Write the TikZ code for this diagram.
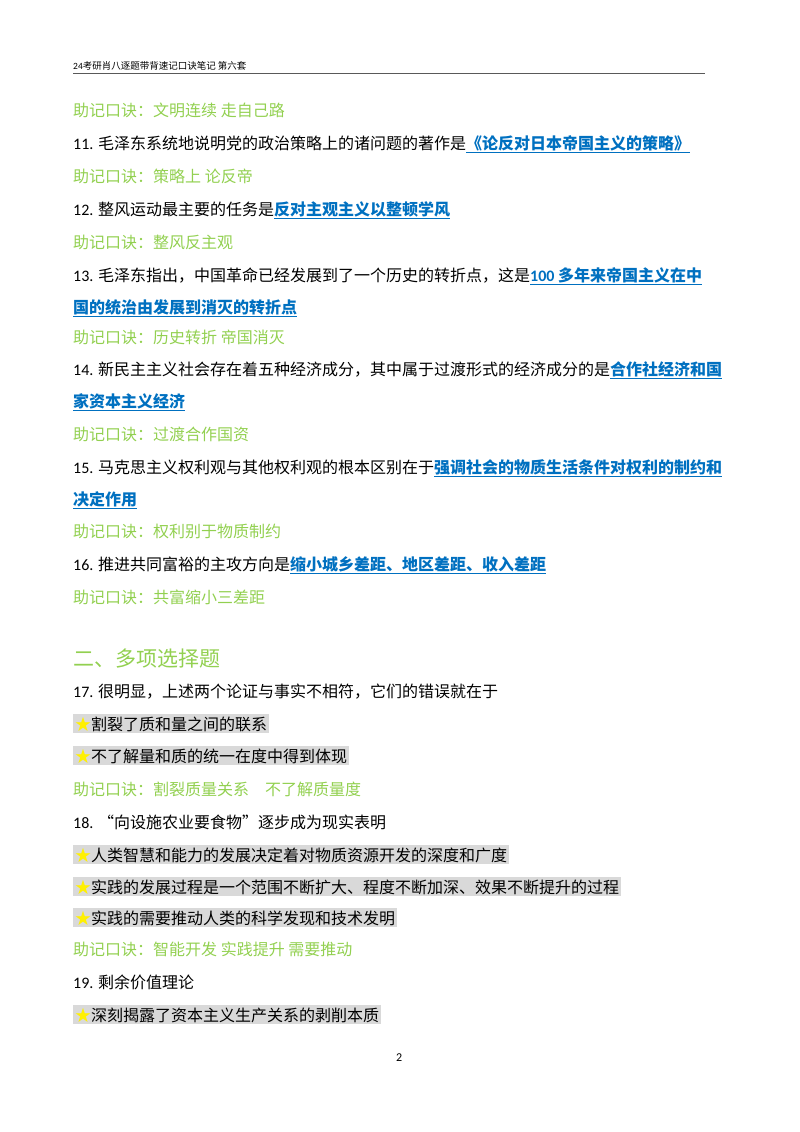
\documentclass[tikz,border=0pt]{standalone}
\usepackage{fontspec}
\setmainfont{Noto Sans CJK SC}
\newfontfamily\latin{Carlito}
\definecolor{mgreen}{RGB}{146,208,80}
\definecolor{lblue}{RGB}{0,112,192}
\definecolor{hgray}{RGB}{217,217,217}
\definecolor{star}{RGB}{255,240,0}
\newcommand{\lk}[1]{\textcolor{lblue}{\bfseries\underline{#1}}}
\newcommand{\st}{\textcolor{star}{★}}
\begin{document}
\begin{tikzpicture}[x=1pt,y=-1pt,
  t/.style={anchor=base west,inner sep=0pt,font=\fontsize{16}{19}\selectfont},
  g/.style={t,text=mgreen},
  h/.style={t,fill=hgray,inner sep=2pt}]
\useasboundingbox (0,0) rectangle (800,1132);
\node[t,font=\fontsize{9.5}{12}\selectfont] (hd) at (73,70) {{\latin 24}考研肖八逐题带背速记口诀笔记\ 第六套};
\draw[gray!70!black,line width=0.8pt] (73,73) -- (705,73);
\node[g] (a1) at (73,116) {助记口诀：文明连续\ 走自己路};
\node[t] (q11) at (73,149) {{\latin 11.} 毛泽东系统地说明党的政治策略上的诸问题的著作是\lk{《论反对日本帝国主义的策略》}};
\node[g] (a2) at (73,182) {助记口诀：策略上\ 论反帝};
\node[t] (q12) at (73,215) {{\latin 12.} 整风运动最主要的任务是\lk{反对主观主义以整顿学风}};
\node[g] (a3) at (73,248) {助记口诀：整风反主观};
\node[t] (q13) at (73,281) {{\latin 13.} 毛泽东指出，中国革命已经发展到了一个历史的转折点，这是\lk{{\latin 100} 多年来帝国主义在中}};
\node[t] (q13b) at (73,313) {\lk{国的统治由发展到消灭的转折点}};
\node[g] (a4) at (73,343) {助记口诀：历史转折\ 帝国消灭};
\node[t] (q14) at (73,375) {{\latin 14.} 新民主主义社会存在着五种经济成分，其中属于过渡形式的经济成分的是\lk{合作社经济和国}};
\node[t] (q14b) at (73,407) {\lk{家资本主义经济}};
\node[g] (a5) at (73,440) {助记口诀：过渡合作国资};
\node[t] (q15) at (73,473) {{\latin 15.} 马克思主义权利观与其他权利观的根本区别在于\lk{强调社会的物质生活条件对权利的制约和}};
\node[t] (q15b) at (73,505) {\lk{决定作用}};
\node[g] (a6) at (73,537) {助记口诀：权利别于物质制约};
\node[t] (q16) at (73,570) {{\latin 16.} 推进共同富裕的主攻方向是\lk{缩小城乡差距、地区差距、收入差距}};
\node[g] (a7) at (73,603) {助记口诀：共富缩小三差距};
\node[t,text=mgreen,font=\fontsize{21}{24}\selectfont] (sec) at (73,666) {二、多项选择题};
\node[t] (q17) at (73,697) {{\latin 17.} 很明显，上述两个论证与事实不相符，它们的错误就在于};
\node[h,anchor=base west] (o1) at (73,730) {\st 割裂了质和量之间的联系};
\node[h,anchor=base west] (o2) at (73,762) {\st 不了解量和质的统一在度中得到体现};
\node[g] (a8) at (73,795) {助记口诀：割裂质量关系\quad 不了解质量度};
\node[t] (q18) at (73,828) {{\latin 18.} “向设施农业要食物”逐步成为现实表明};
\node[h,anchor=base west] (o3) at (73,861) {\st 人类智慧和能力的发展决定着对物质资源开发的深度和广度};
\node[h,anchor=base west] (o4) at (73,893) {\st 实践的发展过程是一个范围不断扩大、程度不断加深、效果不断提升的过程};
\node[h,anchor=base west] (o5) at (73,924) {\st 实践的需要推动人类的科学发现和技术发明};
\node[g] (a9) at (73,955) {助记口诀：智能开发\ 实践提升\ 需要推动};
\node[t] (q19) at (73,988) {{\latin 19.} 剩余价值理论};
\node[h,anchor=base west] (o6) at (73,1021) {\st 深刻揭露了资本主义生产关系的剥削本质};
\node[t,font=\latin\fontsize{12}{14}\selectfont] (pn) at (396,1061) {2};
\end{tikzpicture}
\end{document}
